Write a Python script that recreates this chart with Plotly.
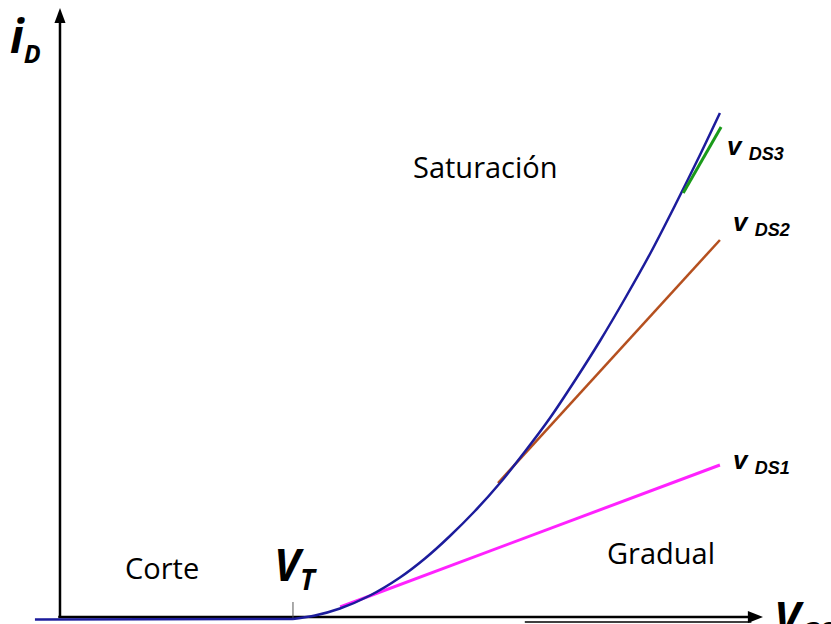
import plotly.graph_objects as go

# Transfer characteristic of an enhancement MOSFET (arbitrary units)
VT = 4.0

# Cut-off: i_D stays at zero below the threshold
vgs_off = [-0.43, VT]
id_off = [-0.03, -0.02]

# i_D(v_GS) in saturation
vgs_sat = [4.00, 4.378, 4.807, 5.322, 5.837, 6.266, 6.695, 7.124, 7.554,
           7.983, 8.412, 8.841, 9.270, 9.700, 10.129, 10.558, 10.987, 11.330]
id_sat = [-0.02, 0.05, 0.19, 0.45, 0.81, 1.19, 1.64, 2.14, 2.70,
          3.33, 4.00, 4.75, 5.54, 6.39, 7.28, 8.25, 9.26, 10.10]

# Linear-region (gradual) branches for three drain-source voltages
vgs_ds1 = [4.81, 11.33]
id_ds1 = [0.22, 3.06]
vgs_ds2 = [7.52, 11.33]
id_ds2 = [2.70, 7.56]
vgs_ds3 = [10.70, 11.35]
id_ds3 = [8.50, 9.82]

# Axis extents
X_MIN, X_MAX = -1.03, 13.237
Y_MIN, Y_MAX = -0.12, 12.36
X_AXIS_TIP = 12.07
Y_AXIS_TIP = 12.2

fig = go.Figure()

# Axes drawn as arrows
fig.add_trace(go.Scatter(x=[-0.03, X_AXIS_TIP - 0.2], y=[0.02, 0.02], mode="lines",
                         line=dict(color="black", width=2.5), hoverinfo="skip"))
fig.add_trace(go.Scatter(x=[7.98, X_AXIS_TIP - 0.2], y=[-0.08, -0.08], mode="lines",
                         line=dict(color="black", width=1.5), hoverinfo="skip"))
fig.add_trace(go.Scatter(x=[0.0, 0.0], y=[0.02, Y_AXIS_TIP - 0.25], mode="lines",
                         line=dict(color="black", width=2.5), hoverinfo="skip"))
fig.add_shape(type="path", xref="x", yref="y",
              path=f"M {X_AXIS_TIP} 0.02 L {X_AXIS_TIP - 0.26} 0.14 L {X_AXIS_TIP - 0.26} -0.10 Z",
              fillcolor="black", line=dict(width=0))
fig.add_shape(type="path", xref="x", yref="y",
              path=f"M 0 {Y_AXIS_TIP} L -0.095 {Y_AXIS_TIP - 0.3} L 0.095 {Y_AXIS_TIP - 0.3} Z",
              fillcolor="black", line=dict(width=0))

# Threshold tick
fig.add_trace(go.Scatter(x=[VT, VT], y=[0.0, 0.32], mode="lines",
                         line=dict(color="#555555", width=1), hoverinfo="skip"))

# Curves
fig.add_trace(go.Scatter(x=vgs_ds1, y=id_ds1, mode="lines",
                         line=dict(color="#FF22FF", width=3), hoverinfo="skip"))
fig.add_trace(go.Scatter(x=vgs_ds2, y=id_ds2, mode="lines",
                         line=dict(color="#B5501F", width=2.5), hoverinfo="skip"))
fig.add_trace(go.Scatter(x=vgs_off, y=id_off, mode="lines",
                         line=dict(color="#1C1C9C", width=2.5), hoverinfo="skip"))
fig.add_trace(go.Scatter(x=vgs_sat, y=id_sat, mode="lines",
                         line=dict(color="#1C1C9C", width=2.5, shape="spline", smoothing=0.8),
                         hoverinfo="skip"))
fig.add_trace(go.Scatter(x=vgs_ds3, y=id_ds3, mode="lines",
                         line=dict(color="#1A9A1A", width=3), hoverinfo="skip"))

region_font = dict(family="Open Sans", size=29, color="black")
sym_font = dict(family="Open Sans", size=44, color="black")
vds_font = dict(family="Liberation Sans", size=26, color="black")

annotations = [
    dict(x=7.31, y=9.04, text="Saturación", font=region_font, xanchor="center", yanchor="middle"),
    dict(x=1.75, y=1.02, text="Corte", font=region_font, xanchor="center", yanchor="middle"),
    dict(x=10.32, y=1.32, text="Gradual", font=region_font, xanchor="center", yanchor="middle"),
    dict(x=-0.9, y=11.62, text='<b><i>i<sub><span style="font-size:25px">D</span></sub></i></b>',
         font=dict(family="Open Sans", size=46, color="black"), xanchor="left", yanchor="middle"),
    dict(x=3.64, y=1.05, text='<b><i>V<sub><span style="font-size:28px">T</span></sub></i></b>',
         font=sym_font, xanchor="left", yanchor="middle"),
    dict(x=12.22, y=-0.02, text='<b><i>V<sub><span style="font-size:28px">GS</span></sub></i></b>',
         font=sym_font, xanchor="left", yanchor="middle"),
    dict(x=11.42, y=9.42, text='<b><i>v <sub><span style="font-size:18px">DS3</span></sub></i></b>',
         font=vds_font, xanchor="left", yanchor="middle"),
    dict(x=11.52, y=7.9, text='<b><i>v <sub><span style="font-size:18px">DS2</span></sub></i></b>',
         font=vds_font, xanchor="left", yanchor="middle"),
    dict(x=11.52, y=3.14, text='<b><i>v <sub><span style="font-size:18px">DS1</span></sub></i></b>',
         font=vds_font, xanchor="left", yanchor="middle"),
]
for a in annotations:
    a.update(xref="x", yref="y", showarrow=False)

fig.update_layout(
    width=831, height=624,
    margin=dict(l=0, r=0, t=0, b=0),
    paper_bgcolor="white", plot_bgcolor="white",
    showlegend=False,
    xaxis=dict(range=[X_MIN, X_MAX], visible=False, fixedrange=True),
    yaxis=dict(range=[Y_MIN, Y_MAX], visible=False, fixedrange=True),
    annotations=annotations,
)

fig.write_html("out.html", config={"displayModeBar": False})
